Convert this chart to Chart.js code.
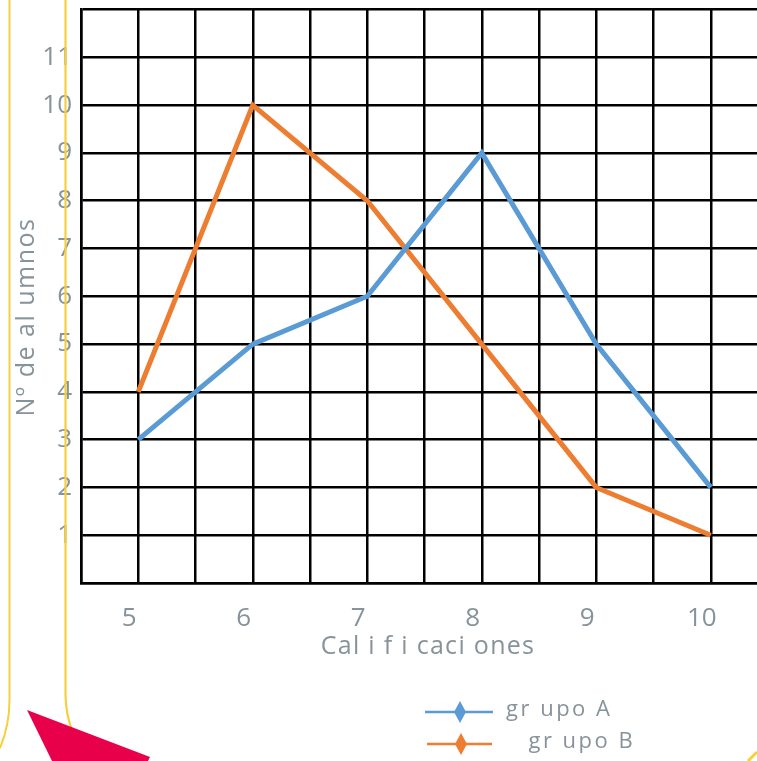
<!DOCTYPE html>
<html><head><meta charset="utf-8">
<script src="https://cdn.jsdelivr.net/npm/chart.js@4.4.0/dist/chart.umd.min.js"></script>
<style>
html,body{margin:0;padding:0;background:#fff;overflow:hidden;width:757px;height:761px;}
#wrap{position:absolute;left:0;top:-15px;width:788px;height:776px;}
#deco{position:absolute;left:0;top:0;pointer-events:none;}
</style></head><body>
<div id="wrap"><canvas id="c" width="788" height="776"></canvas></div>
<svg id="deco" width="757" height="761" viewBox="0 0 757 761">
  <path d="M9.5 0 L9.5 700 Q9.5 725 0 748" fill="none" stroke="#f7cf3c" stroke-width="2"/>
  <path d="M65.5 0 L65.5 695 Q66 715 72 730" fill="none" stroke="#f7cf3c" stroke-width="2.2"/>
  <polygon points="27,710 150,757 148,761 52,761" fill="#e8004b"/>
  <path d="M748 761 L757 752" stroke="#f7cf3c" stroke-width="3"/>
</svg>
<script>
const calificaciones = [5, 6, 7, 8, 9, 10];
const grupoA = [3, 5, 6, 9, 5, 2];
const grupoB = [4, 10, 8, 5, 2, 1];
const yTickValues = [1, 2, 3, 4, 5, 6, 7, 8, 9, 10, 11];
const xTitle = 'Cal i f i caci ones';
const yTitle = 'Nº de al umnos';
const legendLabels = ['gr upo A', '  gr upo B'];
const colors = ['#5b9bd5', '#ed7d31'];

const gray = '#86939a';
const FONT = "'Open Sans', sans-serif";
const OFFY = 15; // canvas is shifted up by this amount

const toPts = arr => calificaciones.map((x, i) => ({x: x, y: arr[i]}));

const decoPlugin = {
  id: 'deco',
  afterDraw(chart) {
    const ctx = chart.ctx;
    ctx.save();
    ctx.translate(0, OFFY);
    // axis titles
    ctx.fillStyle = gray;
    ctx.font = '25px ' + FONT;
    ctx.letterSpacing = '1.3px';
    ctx.textAlign = 'center';
    ctx.textBaseline = 'middle';
    ctx.fillText(xTitle, 428, 647);
    ctx.letterSpacing = '1.5px';
    ctx.save();
    ctx.translate(27, 317);
    ctx.rotate(-Math.PI / 2);
    ctx.fillText(yTitle, 0, 0);
    ctx.restore();
    // legend
    const rows = [{y: 712, x0: 425, x1: 493, dx: 460, tx: 506}, {y: 744, x0: 427, x1: 492, dx: 461, tx: 512}];
    rows.forEach((r, i) => {
      ctx.strokeStyle = colors[i];
      ctx.fillStyle = colors[i];
      ctx.lineWidth = 2.5;
      ctx.beginPath();
      ctx.moveTo(r.x0, r.y); ctx.lineTo(r.x1, r.y); ctx.stroke();
      ctx.beginPath();
      ctx.moveTo(r.dx, r.y - 11); ctx.lineTo(r.dx + 6, r.y); ctx.lineTo(r.dx, r.y + 11); ctx.lineTo(r.dx - 6, r.y);
      ctx.closePath(); ctx.fill();
      ctx.fillStyle = gray;
      ctx.font = '22px ' + FONT;
      ctx.letterSpacing = '2.5px';
      ctx.textAlign = 'left';
      ctx.textBaseline = 'middle';
      ctx.fillText(legendLabels[i], r.tx, r.y - 2);
    });
    ctx.restore();
  }
};

new Chart(document.getElementById('c'), {
  type: 'line',
  data: {
    datasets: [
      {label: 'grupo A', data: toPts(grupoA), borderColor: colors[0], backgroundColor: colors[0], borderWidth: 5, pointRadius: 0, tension: 0},
      {label: 'grupo B', data: toPts(grupoB), borderColor: colors[1], backgroundColor: colors[1], borderWidth: 5, pointRadius: 0, tension: 0}
    ]
  },
  options: {
    responsive: false,
    animation: false,
    layout: {padding: {left: 0, top: 9, right: 2, bottom: 0}},
    plugins: {legend: {display: false}, tooltip: {enabled: false}},
    scales: {
      x: {
        type: 'linear', min: 4.5, max: 10.5, position: 'bottom',
        grid: {color: '#000', lineWidth: 2.5, drawTicks: false},
        border: {color: '#000', width: 2.5},
        ticks: {
          stepSize: 0.5, autoSkip: false, maxRotation: 0, includeBounds: true,
          callback: v => (Number.isInteger(v) && calificaciones.includes(v)) ? String(v) : '',
          labelOffset: -9, padding: 20, color: gray, font: {family: FONT, size: 26}
        },
        afterFit: s => { s.height = 178; }
      },
      y: {
        min: 0, max: 12,
        grid: {color: '#000', lineWidth: 2.5, drawTicks: false},
        border: {color: '#000', width: 2.5},
        ticks: {
          stepSize: 1, autoSkip: false,
          callback: v => yTickValues.includes(v) ? String(v) : '',
          padding: 9, color: gray, font: {family: FONT, size: 26}
        },
        afterFit: s => { s.width = 81; }
      }
    }
  },
  plugins: [decoPlugin]
});
</script>
</body></html>
